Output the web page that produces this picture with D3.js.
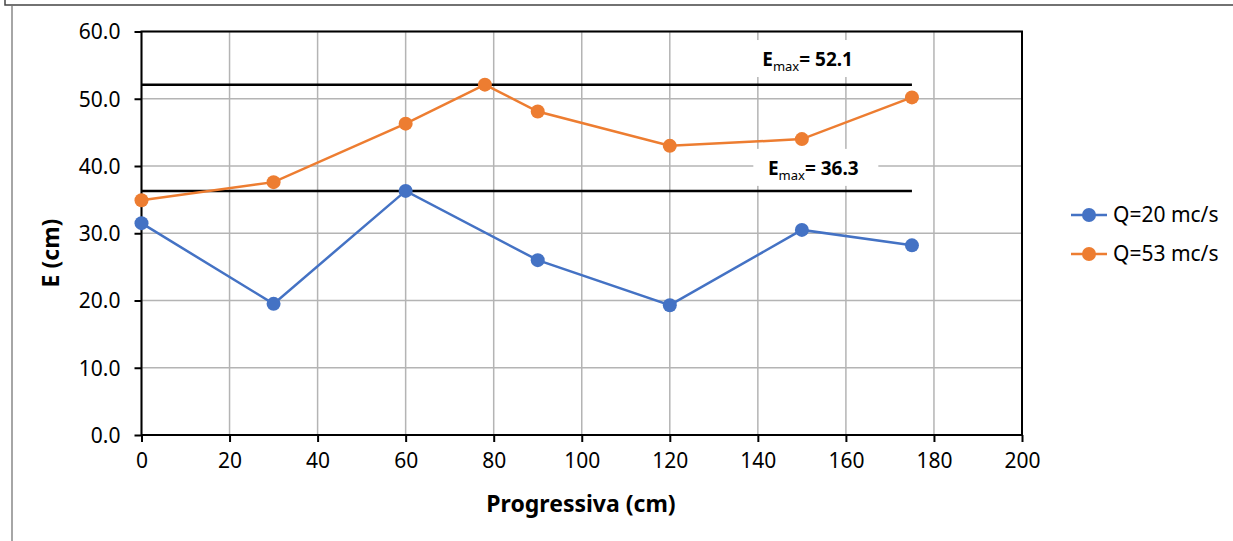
<!DOCTYPE html>
<html>
<head>
<meta charset="utf-8">
<script src="https://cdn.jsdelivr.net/npm/d3@7"></script>
<style>
  body { margin: 0; background: #fff; }
  svg text { font-family: "Noto Sans", "Open Sans", sans-serif; fill: #000; }
</style>
</head>
<body>
<div id="chart"></div>
<script>
// data
var progQ20 = [0, 30, 60, 90, 120, 150, 175];
var eQ20    = [31.5, 19.5, 36.3, 26.0, 19.3, 30.5, 28.2];
var progQ53 = [0, 30, 60, 78, 90, 120, 150, 175];
var eQ53    = [34.9, 37.6, 46.3, 52.1, 48.1, 43.0, 44.0, 50.2];
var seriesNames = ["Q=20 mc/s", "Q=53 mc/s"];
var emaxValues = [52.1, 36.3];
var emaxStart = 0, emaxEnd = 175;
var xTicks = [0, 20, 40, 60, 80, 100, 120, 140, 160, 180, 200];
var yTicks = [0, 10, 20, 30, 40, 50, 60];

var W = 1233, H = 541;
var pLeft = 141.5, pRight = 1022, pTop = 31.5, pBottom = 435;

var color = ["#4472C4", "#ED7D31"];

var svg = d3.select("#chart").append("svg")
    .attr("width", W)
    .attr("height", H);

// frame from the screenshot
svg.append("path")
    .attr("d", "M5,0 V5 H" + W)
    .attr("fill", "none")
    .attr("stroke", "#444")
    .attr("stroke-width", 1.5);
svg.append("line")
    .attr("x1", 12).attr("x2", 12).attr("y1", 6).attr("y2", H)
    .attr("stroke", "#888").attr("stroke-width", 1.5);

var x = d3.scaleLinear().domain([0, 200]).range([pLeft, pRight]);
var y = d3.scaleLinear().domain([0, 60]).range([pBottom, pTop]);

// gridlines
svg.append("g").selectAll("line")
    .data(xTicks)
    .enter().append("line")
    .attr("x1", function(d) { return x(d); })
    .attr("x2", function(d) { return x(d); })
    .attr("y1", pTop).attr("y2", pBottom)
    .attr("stroke", "#b4b4b4").attr("stroke-width", 1.5);
svg.append("g").selectAll("line")
    .data(yTicks)
    .enter().append("line")
    .attr("x1", pLeft).attr("x2", pRight)
    .attr("y1", function(d) { return y(d); })
    .attr("y2", function(d) { return y(d); })
    .attr("stroke", "#b4b4b4").attr("stroke-width", 1.5);

// axes
var xAxis = svg.append("g")
    .attr("transform", "translate(0," + pBottom + ")")
    .call(d3.axisBottom(x).tickValues(xTicks).tickSize(7).tickPadding(11).tickFormat(d3.format("d")));
var yAxis = svg.append("g")
    .attr("transform", "translate(" + pLeft + ",0)")
    .call(d3.axisLeft(y).tickValues(yTicks).tickSize(7).tickPadding(14).tickFormat(d3.format(".1f")));
[xAxis, yAxis].forEach(function(a) {
  a.selectAll("path").remove();
  a.selectAll("line").attr("stroke", "#000").attr("stroke-width", 2);
  a.selectAll("text").style("font-size", "21px").attr("fill", "#000");
});
yAxis.selectAll("text").attr("dy", "0.35em");

// plot border
svg.append("rect")
    .attr("x", pLeft).attr("y", pTop)
    .attr("width", pRight - pLeft).attr("height", pBottom - pTop)
    .attr("fill", "none").attr("stroke", "#000").attr("stroke-width", 2);

// Emax labels (white box hides the grid behind them)
var lab = svg.append("g").selectAll("g")
    .data(emaxValues)
    .enter().append("g")
    .attr("transform", function(d, i) {
      return "translate(" + x(i == 0 ? 151.3 : 152.6) + "," + (y(d) - (i == 0 ? 18.6 : 16)) + ")";
    });
lab.append("rect")
    .attr("x", function(d, i) { return i == 0 ? -62 : -60; })
    .attr("y", -26).attr("width", 125).attr("height", 37)
    .attr("fill", "#fff");
var lt = lab.append("text")
    .attr("text-anchor", "middle")
    .style("font-size", "19px")
    .style("font-weight", "bold");
lt.append("tspan").text("E");
lt.append("tspan").attr("dy", 5).style("font-size", "13px").style("font-weight", "normal").text("max");
lt.append("tspan").attr("dy", -5).text(function(d) { return "= " + d3.format(".1f")(d); });

// Emax lines
svg.append("g").selectAll("line")
    .data(emaxValues)
    .enter().append("line")
    .attr("x1", x(emaxStart)).attr("x2", x(emaxEnd))
    .attr("y1", function(d) { return y(d); })
    .attr("y2", function(d) { return y(d); })
    .attr("stroke", "#000").attr("stroke-width", 2.5);

// series
var series = [
  { name: seriesNames[0], xs: progQ20, ys: eQ20, c: color[0] },
  { name: seriesNames[1], xs: progQ53, ys: eQ53, c: color[1] }
];
var line = d3.line()
    .x(function(d) { return x(d[0]); })
    .y(function(d) { return y(d[1]); });

series.forEach(function(s) {
  var pts = d3.zip(s.xs, s.ys);
  svg.append("path")
      .datum(pts)
      .attr("d", line)
      .attr("fill", "none")
      .attr("stroke", s.c)
      .attr("stroke-width", 2.5);
  svg.append("g").selectAll("circle")
      .data(pts)
      .enter().append("circle")
      .attr("cx", function(d) { return x(d[0]); })
      .attr("cy", function(d) { return y(d[1]); })
      .attr("r", 7)
      .attr("fill", s.c);
});

// axis titles
svg.append("text")
    .attr("x", 581).attr("y", 512)
    .attr("text-anchor", "middle")
    .style("font-size", "23px").style("font-weight", "bold")
    .text("Progressiva (cm)");
svg.append("text")
    .attr("transform", "translate(59,253) rotate(-90)")
    .attr("text-anchor", "middle")
    .style("font-size", "23px").style("font-weight", "bold")
    .text("E (cm)");

// legend
var legend = svg.selectAll(".legend")
    .data(series)
    .enter().append("g")
    .attr("class", "legend")
    .attr("transform", function(d, i) { return "translate(1071," + (215 + i * 39) + ")"; });
legend.append("line")
    .attr("x1", 0).attr("x2", 36)
    .attr("stroke", function(d) { return d.c; })
    .attr("stroke-width", 2.5);
legend.append("circle")
    .attr("cx", 18).attr("r", 7)
    .attr("fill", function(d) { return d.c; });
legend.append("text")
    .attr("x", 42).attr("dy", "0.35em")
    .style("font-size", "21px")
    .text(function(d) { return d.name; });
</script>
</body>
</html>
